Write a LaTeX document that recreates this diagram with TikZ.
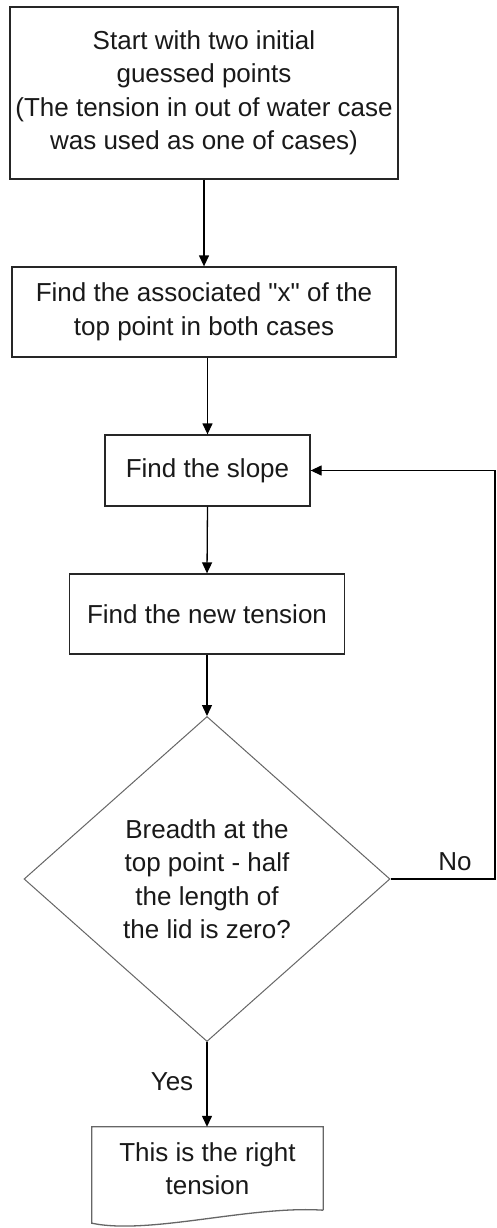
\documentclass[tikz,border=0pt]{standalone}
\usepackage{fontspec}
\setmainfont{Liberation Sans}[Ligatures=TeXOff]
\usetikzlibrary{arrows.meta,shapes.geometric}
\begin{document}
\begin{tikzpicture}[x=1pt,y=-1pt,
  every node/.style={font=\fontsize{26}{33.5}\selectfont, text=black!90},
  procbox/.style={draw=black!85, line width=1.3pt, align=center, inner sep=0pt},
  decbox/.style={draw=black!60, line width=1pt, diamond, aspect=1.126, align=center, inner sep=0pt},
  docbox/.style={align=center, inner sep=0pt},
  docline/.style={draw=black!60, line width=1.3pt},
  flow/.style={draw=black, line width=1.3pt, -{Triangle[length=11pt,width=10pt]}},
  lbl/.style={inner sep=0pt}
]
\useasboundingbox (0,0) rectangle (496,1228);
\fill[white] (0,0) rectangle (496,1228);

\node[procbox, minimum width=388pt, minimum height=172pt] (start) at (204,93)
  {Start with two initial\\guessed points\\(The tension in out of water case\\was used as one of cases)};
\node[procbox, minimum width=384pt, minimum height=90pt] (assoc) at (204,312)
  {Find the associated "x" of the\\top point in both cases};
\node[procbox, minimum width=205pt, minimum height=71pt] (slope) at (207.5,470.5)
  {Find the slope};
\node[procbox, minimum width=275pt, minimum height=80pt] (newt) at (207,614)
  {Find the new tension};
\node[decbox, minimum width=366pt, minimum height=325pt] (dec) at (207,879)
  {Breadth at the\\top point - half\\the length of\\the lid is zero?};
\node[docbox, minimum width=231pt, minimum height=83pt] (doc) at (207.5,1168.5)
  {This is the right\\tension};
\draw[docline] (doc.south east) -- (doc.north east) -- (doc.north west)
  -- ([yshift=-13pt]doc.south west)
  .. controls +(58,12) and +(-73,-5) .. (doc.south east);

\coordinate (loopr) at (495,879);

\draw[flow] (start.south) -- (assoc.north);
\draw[flow] (slope.north |- assoc.south) -- (slope.north);
\draw[flow] (slope.south) -- (newt.north);
\draw[flow] (newt.south) -- (dec.north);
\draw[flow] (dec.south) -- (doc.north -| dec.south);
\draw[flow] (dec.east) -- (loopr) |- (slope.east);

\node[lbl] (yes) at (172,1082) {Yes};
\node[lbl] (no) at (455,862) {No};
\end{tikzpicture}
\end{document}
